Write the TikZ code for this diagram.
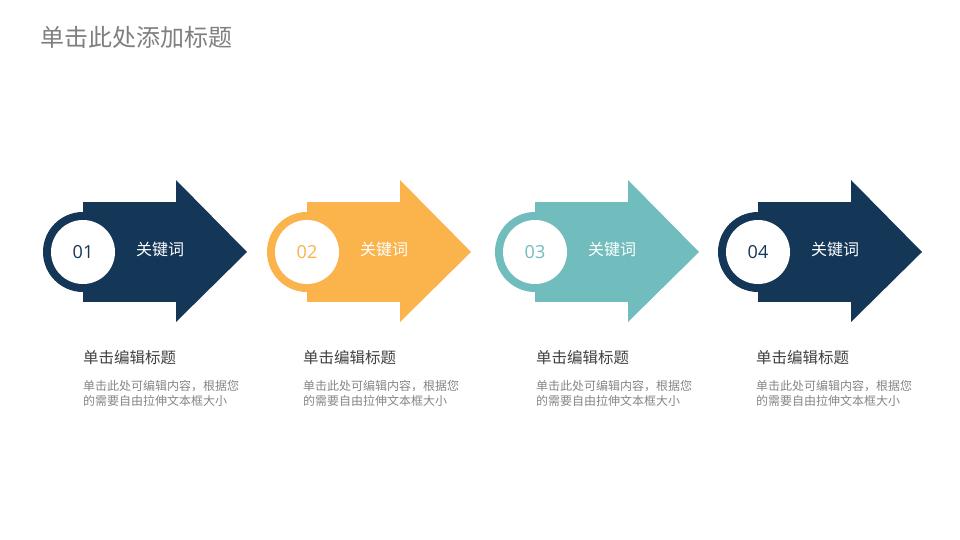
\documentclass[tikz,border=0pt]{standalone}
\usepackage{fontspec}
\setmainfont{Noto Sans CJK SC}
\newfontfamily\numfont{Open Sans}
\definecolor{stepnavy}{HTML}{143657}
\definecolor{steporange}{HTML}{FBB34C}
\definecolor{stepteal}{HTML}{71BDBD}
\definecolor{titlegray}{HTML}{7F7F7F}
\definecolor{headgray}{HTML}{404040}
\definecolor{bodygray}{HTML}{858585}

\begin{document}
\begin{tikzpicture}[x=1pt,y=-1pt,
  keyword/.style={text=white,inner sep=0pt,font=\fontsize{16}{16}\selectfont},
  numdisc/.style={circle,fill=white,minimum size=64pt,inner sep=0pt,font=\numfont\fontsize{18}{18}\selectfont},
  stephead/.style={text=headgray,inner sep=0pt,font=\fontsize{15.5}{16}\selectfont},
  stepbody/.style={text=bodygray,inner sep=0pt,align=left,font=\fontsize{12}{15}\selectfont}]
  \useasboundingbox (0,0) rectangle (960,540);
  \node[anchor=west,text=titlegray,inner sep=0pt,font=\fontsize{24}{24}\selectfont] (title) at (40,37) {单击此处添加标题};
  % one arrow per step: number, x of circle centre, x of text, colour
  \foreach \n/\cx/\tx/\col in {1/83/83/stepnavy,2/307/303/steporange,3/535/536/stepteal,4/758/756/stepnavy}{%
    \coordinate (c\n) at (\cx,252);
    \fill[\col] (c\n) circle (40pt);
    \fill[\col] (\cx,202) rectangle (\cx+94,302);
    \fill[\col] (\cx+93,180) -- (\cx+164,252) -- (\cx+93,322) -- cycle;
    \node[numdisc,text=\col] (num\n) at (c\n) {0\n};
    \node[keyword,anchor=base] (key\n) at (\cx+77,255) {关键词};
    \node[stephead,anchor=base west] (head\n) at (\tx,363) {单击编辑标题};
    \node[stepbody,anchor=north west] (desc\n) at (\tx,380.5) {单击此处可编辑内容，根据您\\的需要自由拉伸文本框大小};
  }
\end{tikzpicture}
\end{document}
